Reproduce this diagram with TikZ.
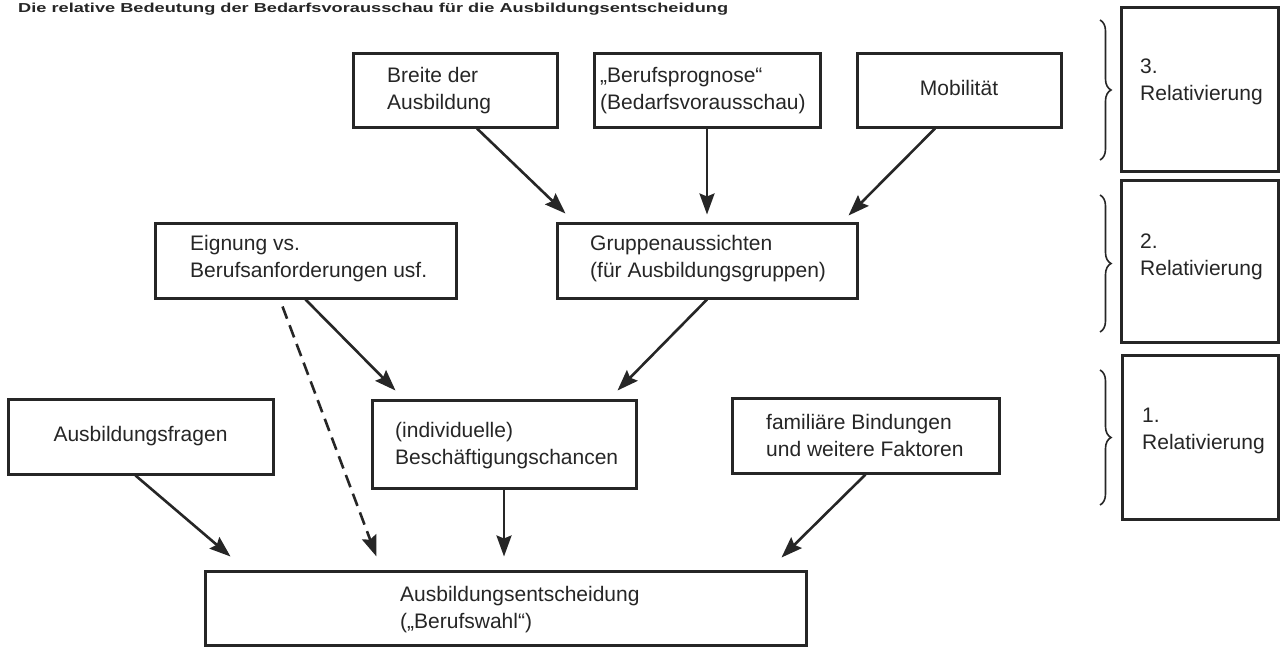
\documentclass[tikz,border=0pt]{standalone}
\usepackage{fontspec}
\setmainfont{Liberation Sans}
\usetikzlibrary{arrows.meta,decorations.pathreplacing,calc}
\definecolor{ink}{HTML}{262626}
\begin{document}
\begin{tikzpicture}[x=1pt,y=-1pt,
 box/.style={draw=ink, line width=3pt, inner sep=0pt, rectangle},
 txt/.style={text=ink, font=\fontsize{21}{27}\selectfont, align=left, inner sep=0pt},
 conn/.style={draw=ink, line width=2.6pt, -{Stealth[length=21pt,width=15pt,inset=3pt]}},
 dashconn/.style={conn, dash pattern=on 13pt off 7pt},
 brc/.style={draw=ink, line width=1.6pt, decorate, decoration={brace, amplitude=11pt}}]
\useasboundingbox (0,0) rectangle (1280,648);
\fill[white] (0,0) rectangle (1280,648);
% title (cut at the top in the reference)
\node[anchor=base west, inner sep=0pt, text=ink, font=\bfseries\fontsize{13}{16}\selectfont] (title) at (18,12) {\scalebox{1.4}[1]{Die relative Bedeutung der Bedarfsvorausschau für die Ausbildungsentscheidung}};
% boxes
\node[box, minimum width=204, minimum height=74] (breite) at (455,90) {};
\node[box, minimum width=226, minimum height=74] (prog) at (707,90) {};
\node[box, minimum width=204, minimum height=74] (mob) at (959,90) {};
\node[box, minimum width=301, minimum height=75] (eign) at (305.5,260.5) {};
\node[box, minimum width=300, minimum height=75] (grupp) at (707,260.5) {};
\node[box, minimum width=265, minimum height=75] (ausb) at (140.5,436.5) {};
\node[box, minimum width=264, minimum height=88] (besch) at (504,444) {};
\node[box, minimum width=267, minimum height=75] (fam) at (865.5,435.5) {};
\node[box, minimum width=601, minimum height=74] (entsch) at (505.5,608) {};
\node[box, minimum width=157, minimum height=164] (r3) at (1199.5,89) {};
\node[box, minimum width=157, minimum height=162] (r2) at (1199.5,261) {};
\node[box, minimum width=156, minimum height=164] (r1) at (1200,437) {};
% texts
\node[txt, anchor=west] (breiteT) at (387,91) {Breite der\\Ausbildung};
\node[txt, anchor=west] (progT) at (600,91) {„Berufsprognose“\\(Bedarfsvorausschau)};
\node[txt] (mobT) at (959,88) {Mobilität};
\node[txt, anchor=west] (eignT) at (190,259) {Eignung vs.\\Berufsanforderungen usf.};
\node[txt, anchor=west] (gruppT) at (590,259) {Gruppenaussichten\\(für Ausbildungsgruppen)};
\node[txt] (ausbT) at (140.5,436) {Ausbildungsfragen};
\node[txt, anchor=west] (beschT) at (395,446) {(individuelle)\\Beschäftigungschancen};
\node[txt, anchor=west] (famT) at (766,435) {familiäre Bindungen\\und weitere Faktoren};
\node[txt, anchor=west] (entschT) at (400,610) {Ausbildungsentscheidung\\(„Berufswahl“)};
\node[txt, anchor=west] (r3T) at (1140,82) {3.\\Relativierung};
\node[txt, anchor=west] (r2T) at (1140,257) {2.\\Relativierung};
\node[txt, anchor=west] (r1T) at (1142,431) {1.\\Relativierung};
% braces
\coordinate (b3a) at (1100,20); \coordinate (b3b) at (1100,160);
\coordinate (b2a) at (1100,195); \coordinate (b2b) at (1100,332);
\coordinate (b1a) at (1100,370); \coordinate (b1b) at (1100,505);
\draw[brc] (b3a) -- (b3b);
\draw[brc] (b2a) -- (b2b);
\draw[brc] (b1a) -- (b1b);
% connectors
\draw[conn] ([xshift=22pt]breite.south) -- ([xshift=10pt,yshift=8pt]grupp.north west);
\draw[conn] (prog.south) -- ([yshift=7pt]grupp.north);
\draw[conn] ([xshift=-24pt]mob.south) -- ([xshift=-10pt,yshift=6pt]grupp.north east);
\draw[conn] (eign.south) -- ([xshift=25pt,yshift=8pt]besch.north west);
\draw[conn] (grupp.south) -- ([xshift=-20pt,yshift=8pt]besch.north east);
\draw[dashconn] ([xshift=-23pt,yshift=-7pt]eign.south) -- ([xshift=173pt,yshift=13pt]entsch.north west);
\draw[conn] ([xshift=-5pt]ausb.south) -- ([xshift=27pt,yshift=13pt]entsch.north west);
\draw[conn] (besch.south) -- ($(besch.south |- entsch.north)+(0,-13)$);
\draw[conn] (fam.south) -- ([xshift=-26pt,yshift=12pt]entsch.north east);
\end{tikzpicture}
\end{document}
